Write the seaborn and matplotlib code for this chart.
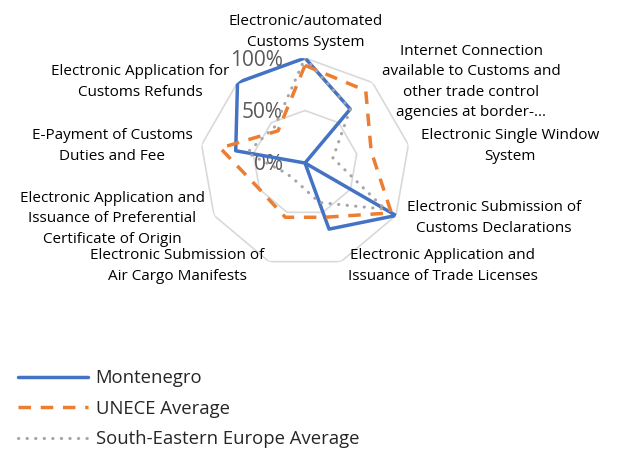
import numpy as np
import pandas as pd
import matplotlib
matplotlib.use("Agg")
import matplotlib.pyplot as plt
import seaborn as sns

# ---------------------------------------------------------------
# Data (0..1 = 0%..100%)
# ---------------------------------------------------------------
categories = [
    "Electronic/automated\nCustoms System",
    "Internet Connection\navailable to Customs and\nother trade control\nagencies at border-...",
    "Electronic Single Window\nSystem",
    "Electronic Submission of\nCustoms Declarations",
    "Electronic Application and\nIssuance of Trade Licenses",
    "Electronic Submission of\nAir Cargo Manifests",
    "Electronic Application and\nIssuance of Preferential\nCertificate of Origin",
    "E-Payment of Customs\nDuties and Fee",
    "Electronic Application for\nCustoms Refunds",
]
montenegro = [1.00, 0.67, 0.00, 1.00, 0.67, 0.00, 0.00, 0.67, 1.00]
unece_avg  = [0.93, 0.90, 0.64, 0.95, 0.55, 0.55, 0.50, 0.82, 0.40]
see_avg    = [1.00, 0.67, 0.27, 0.88, 0.40, 0.20, 0.20, 0.56, 0.45]
series_names = ["Montenegro", "UNECE Average", "South-Eastern Europe Average"]
r_ticks = [0.0, 0.5, 1.0]
r_tick_labels = ["0%", "50%", "100%"]

# ---------------------------------------------------------------
# Long table, each polygon closed back to its first point
# ---------------------------------------------------------------
n = len(categories)
theta = np.linspace(0, 2 * np.pi, n, endpoint=False)
rows = []
for name, vals in zip(series_names, [montenegro, unece_avg, see_avg]):
    for i in range(n):
        rows.append({"series": name, "theta": theta[i], "value": vals[i]})
    rows.append({"series": name, "theta": 2 * np.pi, "value": vals[0]})
df = pd.DataFrame(rows)

# ---------------------------------------------------------------
# Plot
# ---------------------------------------------------------------
sns.set_theme(style="white")
plt.rcParams["font.family"] = ["Open Sans", "DejaVu Sans"]

W, H = 619, 450
fig = plt.figure(figsize=(W / 100, H / 100), dpi=100)

CX, CY, R = 305, 163, 105
ax = fig.add_axes([(CX - R) / W, (H - CY - R) / H, 2 * R / W, 2 * R / H],
                  projection="polar")
ax.set_theta_zero_location("N")
ax.set_theta_direction(-1)
ax.grid(False)
ax.spines["polar"].set_visible(False)
ax.set_facecolor("none")

# nonagon grid rings
ring_t = np.append(theta, theta[0])
for rv in r_ticks[1:]:
    ax.plot(ring_t, np.full(len(ring_t), rv), color="#d9d9d9", lw=1.2, zorder=1)

palette = {"Montenegro": "#4472C4", "UNECE Average": "#ED7D31",
           "South-Eastern Europe Average": "#A5A5A5"}
dashes = {"Montenegro": "", "UNECE Average": (3.6, 2.8),
          "South-Eastern Europe Average": (0.1, 2.7)}

sns.lineplot(data=df, x="theta", y="value", hue="series", style="series",
             palette=palette, dashes=dashes, sort=False, estimator=None,
             linewidth=2.5, ax=ax, legend=False, zorder=3)
lines = ax.get_lines()[-3:]
lines[2].set_linewidth(2.2)
lines[2].set_dash_capstyle("round")
ax.set_xlabel("")
ax.set_ylabel("")
ax.set_xticks([])
ax.set_yticks([])
ax.set_ylim(0, 1)

# radial tick labels (drawn under the series lines)
for rv, lab in zip(r_ticks, r_tick_labels):
    ax.text((CX - 22) / W, 1 - (CY - rv * R + 2) / H, lab, ha="right",
            va="center", fontsize=15, color="#595959",
            transform=fig.transFigure, zorder=2)

# category labels (Excel-like placement)
label_pos = [(306, 32), (471, 82), (510, 146), (494, 218), (443, 266),
             (177, 266), (112, 219), (112, 146), (140, 82)]
for lab, (x, y) in zip(categories, label_pos):
    fig.text(x / W, 1 - y / H, lab, ha="center", va="center",
             fontsize=11, color="black", linespacing=1.5)

# legend
leg = fig.legend(lines, series_names, loc="upper left",
                 bbox_to_anchor=(18 / W, 1 - 369 / H), frameon=False,
                 borderaxespad=0, borderpad=0,
                 fontsize=13.3, handlelength=3.8, handletextpad=0.4,
                 labelspacing=0.68)

fig.savefig("out.png", dpi=100, facecolor="white")
